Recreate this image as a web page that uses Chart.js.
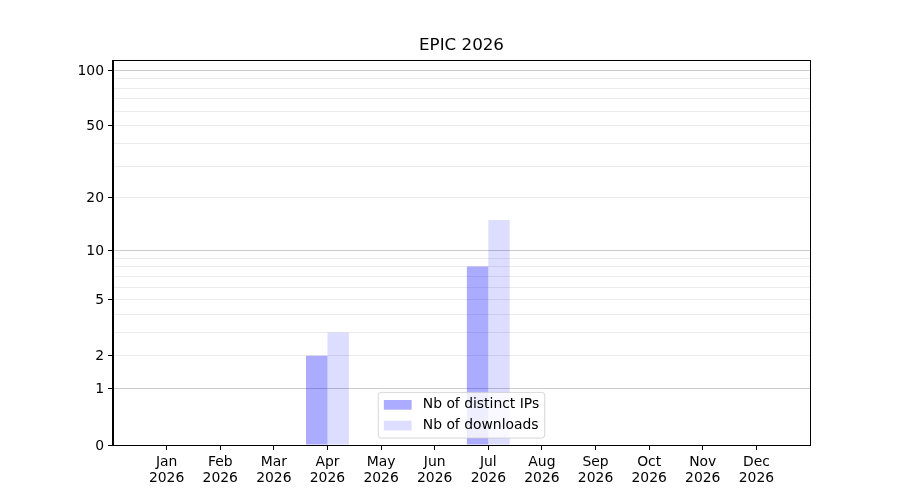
<!DOCTYPE html>
<html>
<head>
<meta charset="utf-8">
<title>EPIC 2026</title>
<script src="https://cdn.jsdelivr.net/npm/chart.js@4.4.1/dist/chart.umd.min.js"></script>
<style>
  html, body { margin: 0; padding: 0; background: #fff; }
</style>
</head>
<body>
<canvas id="epicChart" width="900" height="500"></canvas>
<script>
const chartTitle = "EPIC 2026";
const months = ["Jan", "Feb", "Mar", "Apr", "May", "Jun", "Jul", "Aug", "Sep", "Oct", "Nov", "Dec"];
const year = "2026";
const distinctIps = [0, 0, 0, 2, 0, 0, 8, 0, 0, 0, 0, 0];
const downloads = [0, 0, 0, 3, 0, 0, 15, 0, 0, 0, 0, 0];
const yTickLabels = [0, 1, 2, 5, 10, 20, 50, 100];
const yMinorTicks = [3, 4, 6, 7, 8, 9, 30, 40, 60, 70, 80, 90];
const yMajorGrid = [1, 10, 100];
const yMax = 113.7;

const FONT = "DejaVu Sans";
const FS = 13.9;

// y axis scale: log10(v + 1), so zero sits on the axis
class Log1pScale extends Chart.Scale {
  determineDataLimits() {
    this.min = 0;
    this.max = yMax;
  }
  buildTicks() {
    return [...yTickLabels, ...yMinorTicks].sort((a, b) => a - b).map(v => ({ value: v }));
  }
  getLabelForValue(v) {
    return String(v);
  }
  configure() {
    super.configure();
    this._start = Math.log10(this.min + 1);
    this._range = Math.log10(this.max + 1) - this._start;
  }
  getPixelForValue(v) {
    if (v === undefined || v === null || isNaN(v)) return NaN;
    return this.getPixelForDecimal((Math.log10(v + 1) - this._start) / this._range);
  }
  getValueForPixel(p) {
    const d = this.getDecimalForPixel(p);
    return Math.pow(10, this._start + d * this._range) - 1;
  }
}
Log1pScale.id = "log1p";
Log1pScale.defaults = {};
Chart.register(Log1pScale);

// title over the axes, box around the plot, legend inside the axes (lower center)
const frameAndLegend = {
  id: "frameAndLegend",
  afterDatasetsDraw(chart) {
    const ctx = chart.ctx;
    const a = chart.chartArea;
    ctx.save();
    ctx.strokeStyle = "#000";
    ctx.lineWidth = 1;
    ctx.strokeRect(a.left - 0.5, a.top + 0.5, a.right - a.left + 1, a.bottom - a.top);

    ctx.fillStyle = "#000";
    ctx.font = "16.7px '" + FONT + "'";
    ctx.textAlign = "center";
    ctx.textBaseline = "middle";
    ctx.fillText(chartTitle, (a.left + a.right) / 2, a.top - 14);

    ctx.font = FS + "px '" + FONT + "'";
    const sets = chart.data.datasets;
    const pad = 0.4 * FS;
    const handleLen = 2 * FS;
    const handlePad = 0.8 * FS;
    const rowH = 13.8;
    const gap = 0.5 * FS;
    const textW = Math.max(...sets.map(s => ctx.measureText(s.label).width));
    const w = 2 * pad + handleLen + handlePad + textW;
    const h = 2 * pad + sets.length * rowH + (sets.length - 1) * gap;
    const x0 = (a.left + a.right) / 2 - w / 2;
    const y0 = a.bottom - 0.5 * FS - h;

    ctx.beginPath();
    ctx.roundRect(x0, y0, w, h, 3);
    ctx.fillStyle = "rgba(255,255,255,0.8)";
    ctx.fill();
    ctx.strokeStyle = "rgba(204,204,204,0.8)";
    ctx.stroke();

    sets.forEach((s, i) => {
      const cy = y0 + pad + rowH / 2 + i * (rowH + gap);
      ctx.fillStyle = s.backgroundColor;
      ctx.fillRect(x0 + pad, cy - 0.35 * FS, handleLen, 0.7 * FS);
      ctx.fillStyle = "#000";
      ctx.textBaseline = "middle";
      ctx.textAlign = "left";
      ctx.fillText(s.label, x0 + pad + handleLen + handlePad, cy);
    });
    ctx.restore();
  }
};

new Chart(document.getElementById("epicChart"), {
  type: "bar",
  data: {
    datasets: [
      {
        label: "Nb of distinct IPs",
        data: months.map((m, i) => ({ x: i, y: distinctIps[i] })),
        backgroundColor: "rgba(0,0,255,0.33)",
        borderWidth: 0,
        categoryPercentage: 0.8,
        barPercentage: 1.0
      },
      {
        label: "Nb of downloads",
        data: months.map((m, i) => ({ x: i, y: downloads[i] })),
        backgroundColor: "rgba(0,0,255,0.135)",
        borderWidth: 0,
        categoryPercentage: 0.8,
        barPercentage: 1.0
      }
    ]
  },
  options: {
    responsive: false,
    animation: false,
    layout: {
      padding: { left: 0, right: 90, top: 60, bottom: 0 }
    },
    plugins: {
      legend: { display: false },
      tooltip: { enabled: false },
      title: { display: false }
    },
    scales: {
      x: {
        type: "linear",
        min: -1,
        max: 12,
        offset: false,
        afterBuildTicks: (scale) => {
          scale.ticks = months.map((m, i) => ({ value: i }));
        },
        afterFit: (scale) => {
          scale.height = 55;
        },
        ticks: {
          autoSkip: false,
          maxRotation: 0,
          padding: 5,
          color: "#000",
          font: { family: FONT, size: FS, lineHeight: 1.1 },
          callback: (v) => [months[v], year]
        },
        grid: {
          offset: false,
          drawOnChartArea: false,
          tickColor: "#000",
          tickLength: 5
        },
        border: { color: "#000" }
      },
      y: {
        type: "log1p",
        afterFit: (scale) => {
          scale.width = 113;
        },
        ticks: {
          autoSkip: false,
          padding: 4,
          labelOffset: 1,
          color: "#000",
          font: { family: FONT, size: FS },
          callback: (v) => (yTickLabels.includes(v) ? String(v) : "")
        },
        grid: {
          color: (c) => (c.tick && yMajorGrid.includes(c.tick.value) ? "#cccccc" : "#ececec"),
          tickColor: (c) => (c.tick && yTickLabels.includes(c.tick.value) ? "#000" : "rgba(0,0,0,0)"),
          tickLength: 5
        },
        border: { color: "#000" }
      }
    }
  },
  plugins: [frameAndLegend]
});
</script>
</body>
</html>
